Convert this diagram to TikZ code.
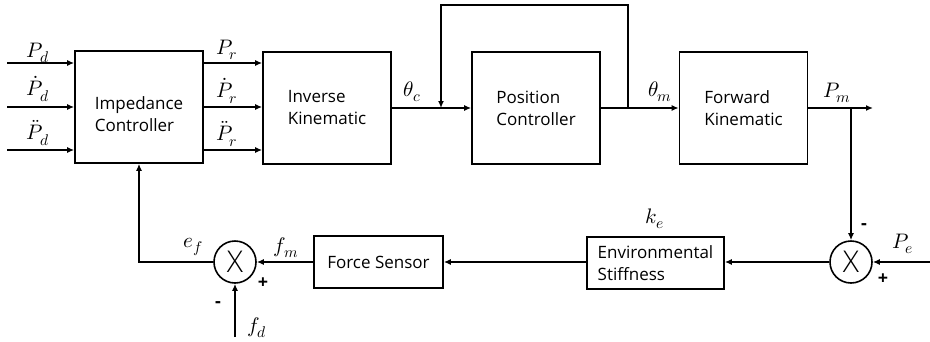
\documentclass[tikz,border=0pt]{standalone}
\usepackage{fontspec}
\usepackage{unicode-math}
\setmainfont{Open Sans}
\setmathfont{Latin Modern Math}
\newfontfamily\xthin{Open Sans}[UprightFont=* Light]
\newcommand\sbx[1]{_{\mbox{\fontsize{15.5}{16}\selectfont$#1$}}}
\usetikzlibrary{arrows.meta}
\begin{document}
\begin{tikzpicture}[x=1pt,y=-1pt,line width=1.6pt,
  box/.style={draw,rectangle,minimum width=128pt,minimum height=112pt,align=left,inner sep=0pt,font=\fontsize{17}{22}\selectfont},
  sbox/.style={box,minimum height=52pt},
  sumc/.style={draw,circle,minimum size=42pt,inner sep=0pt,font=\xthin\fontsize{30}{30}\selectfont},
  lab/.style={inner sep=0pt,font=\fontsize{21}{22}\selectfont},
  sgn/.style={inner sep=0pt,font=\fontsize{18}{20}\selectfont\bfseries},
  arr/.style={-{Latex[length=7pt,width=6pt]}}]
\useasboundingbox (0,0) rectangle (930,341);
% blocks
\node[box,label={[align=left,yshift=-7pt,font=\fontsize{17}{22}\selectfont]center:Impedance\\Controller}] (imp) at (139,107) {};
\node[box] (inv) at (327,108) {Inverse\\Kinematic};
\node[box] (pos) at (536,108) {Position\\Controller};
\node[box] (fwd) at (743.5,108) {Forward\\Kinematic};
\node[sbox,minimum width=137pt] (env) at (655.5,263) {Environmental\\Stiffness};
\node[sbox,minimum width=129pt] (fs) at (378.5,262) {Force Sensor};
\node[sumc] (s2) at (851,262) {X};
\node[sumc] (s1) at (235,262) {X};
% input coordinates
\coordinate (i1) at (7,63);
\coordinate (i2) at (7,107);
\coordinate (i3) at (7,150);
\draw[arr] (i1) -- (i1 -| imp.west);
\draw[arr] (i2) -- (i2 -| imp.west);
\draw[arr] (i3) -- (i3 -| imp.west);
\draw[arr] (imp.east |- i1) -- (inv.west |- i1);
\draw[arr] (imp.east |- i2) -- (inv.west |- i2);
\draw[arr] (imp.east |- i3) -- (inv.west |- i3);
\draw[arr] (inv.east) -- (pos.west);
\draw[arr] (pos.east) -- (fwd.west);
% inner feedback
\coordinate (j1) at (628,108);
\coordinate (t1) at (628,5);
\coordinate (t2) at (441,5);
\coordinate (j2) at (441,108);
\draw[arr] (j1) -- (t1) -- (t2) -- (j2);
% output
\coordinate (pmout) at (873,108);
\coordinate (j3) at (851,108);
\draw[arr] (fwd.east) -- (pmout);
\draw[arr] (j3) -- (s2.north);
\coordinate (pein) at (930,262);
\draw[arr] (pein) -- (s2.east);
\draw[arr] (s2.west) -- (env.east |- s2.west);
\draw[arr] (env.west |- fs.east) -- (fs.east);
\draw[arr] (fs.west) -- (s1.east);
\draw[arr] (s1.west) -| (imp.south);
\coordinate (fdin) at (235,337);
\draw[arr] (fdin) -- (s1.south);
% labels
\node[lab] (lpd) at (38,53) {$P\sbx{d}$};
\node[lab] (lpd1) at (38,89) {$\dot P\sbx{d}$};
\node[lab] (lpd2) at (38,133) {$\ddot P\sbx{d}$};
\node[lab] (lpr) at (227,50) {$P\sbx{r}$};
\node[lab] (lpr1) at (227,91) {$\dot P\sbx{r}$};
\node[lab] (lpr2) at (227,134) {$\ddot P\sbx{r}$};
\node[lab] (lthc) at (412,92) {$\theta\sbx{c}$};
\node[lab] (lthm) at (660,92) {$\theta\sbx{m}$};
\node[lab] (lpm) at (837,93) {$P\sbx{m}$};
\node[lab] (lke) at (655,219) {$k\sbx{e}$};
\node[lab] (lef) at (193,247) {$e\sbx{f}$};
\node[lab] (lfm) at (286,248) {$f\sbx{m}$};
\node[lab] (lfd) at (257,328) {$f\sbx{d}$};
\node[lab] (lpe) at (903,244) {$P\sbx{e}$};
\node[sgn] (m2) at (864,227) {-};
\node[sgn] (p2) at (883,279) {+};
\node[sgn] (p1) at (263,283) {+};
\node[sgn] (m1) at (218,305) {-};
\end{tikzpicture}
\end{document}
